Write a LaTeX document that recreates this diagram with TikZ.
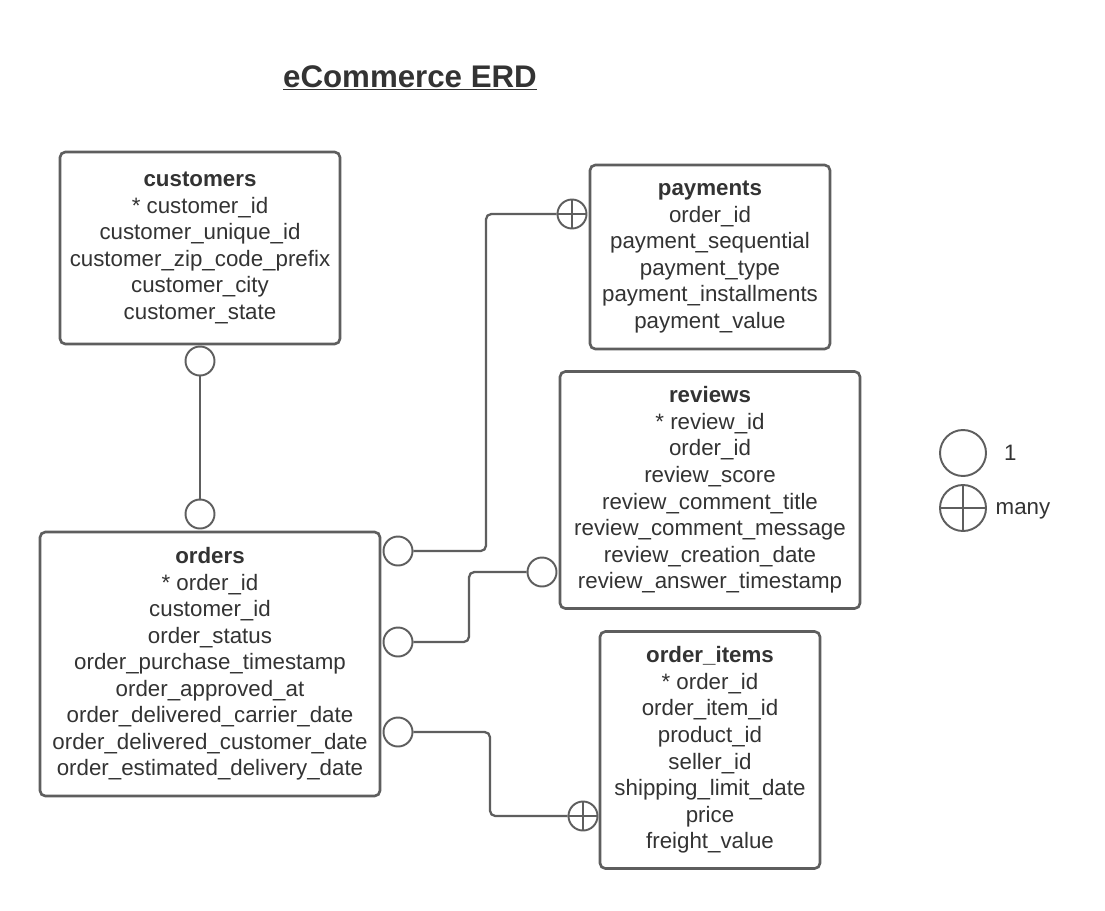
\documentclass[tikz,border=0pt]{standalone}
\usepackage{fontspec}
\setmainfont{Liberation Sans}
\usetikzlibrary{positioning}
\colorlet{background}{white}
\colorlet{penColor}{black!63}
\colorlet{textColor}{black!80}
\tikzset{
  entity/.style={draw=penColor, line width=1.5pt, rounded corners=3pt, inner sep=0pt,
    align=center, text=textColor, font=\fontsize{12.7}{15.1}\selectfont},
  one/.style={draw=penColor, line width=1.1pt, circle, fill=background, inner sep=0pt, minimum size=0.58cm},
  many/.style={one, path picture={\draw[penColor, line width=1.1pt]
    (path picture bounding box.north) -- (path picture bounding box.south)
    (path picture bounding box.west) -- (path picture bounding box.east);}},
  link/.style={draw=penColor, line width=1.3pt, rounded corners=3pt},
  legendtext/.style={text=textColor, font=\fontsize{12.7}{15.1}\selectfont}
}

\begin{document}
\begin{tikzpicture}[x=0.02cm,y=-0.02cm]
      \useasboundingbox [fill=background] (0,0) rectangle (1105,910);
      % title
      \node [text=textColor, font=\bfseries\fontsize{17.8}{21}\selectfont] (title) at (410,78) {\underline{eCommerce ERD}};
      % tables
      \node [entity, minimum width=5.6cm, minimum height=3.84cm] (customers) at (200,248)
        {\textbf{customers}\\ * customer\_id\\ customer\_unique\_id\\ customer\_zip\_code\_prefix\\ customer\_city\\ customer\_state};
      \node [entity, minimum width=6.8cm, minimum height=5.28cm] (orders) at (210,664)
        {\textbf{orders}\\ * order\_id\\ customer\_id\\ order\_status\\ order\_purchase\_timestamp\\ order\_approved\_at\\ order\_delivered\_carrier\_date\\ order\_delivered\_customer\_date\\ order\_estimated\_delivery\_date};
      \node [entity, minimum width=4.8cm, minimum height=3.68cm] (payments) at (710,257)
        {\textbf{payments}\\ order\_id\\ payment\_sequential\\ payment\_type\\ payment\_installments\\ payment\_value};
      \node [entity, minimum width=6cm, minimum height=4.74cm] (reviews) at (710,490)
        {\textbf{reviews}\\ * review\_id\\ order\_id\\ review\_score\\ review\_comment\_title\\ review\_comment\_message\\ review\_creation\_date\\ review\_answer\_timestamp};
      \node [entity, minimum width=4.4cm, minimum height=4.74cm] (items) at (710,750)
        {\textbf{order\_items}\\ * order\_id\\ order\_item\_id\\ product\_id\\ seller\_id\\ shipping\_limit\_date\\ price\\ freight\_value};
      % ends
      \node [one] (custEnd) at (200,361) {};
      \node [one] (ordCust) at (200,514) {};
      \node [one] (ordPay) at (398,551) {};
      \node [one] (ordRev) at (398,642) {};
      \node [one] (ordItem) at (398,732) {};
      \node [many] (payEnd) at (572,214) {};
      \node [one] (revEnd) at (542,572) {};
      \node [many] (itemEnd) at (583,816) {};
      % links
      \draw [link] (custEnd) -- (ordCust);
      \draw [link] (ordPay) -- ++(88,0) |- (payEnd);
      \draw [link] (ordRev) -- ++(71,0) |- (revEnd);
      \draw [link] (ordItem) -- ++(92,0) |- (itemEnd);
      % legend
      \node [one, minimum size=0.92cm] (keyOne) at (963,453) {};
      \node [many, minimum size=0.92cm] (keyMany) at (963,508) {};
      \node [legendtext, right=0.22cm of keyOne] (keyOneText) {1};
      \node [legendtext, right=0.05cm of keyMany, yshift=-0.06cm] (keyManyText) {many};
    \end{tikzpicture}
\end{document}
